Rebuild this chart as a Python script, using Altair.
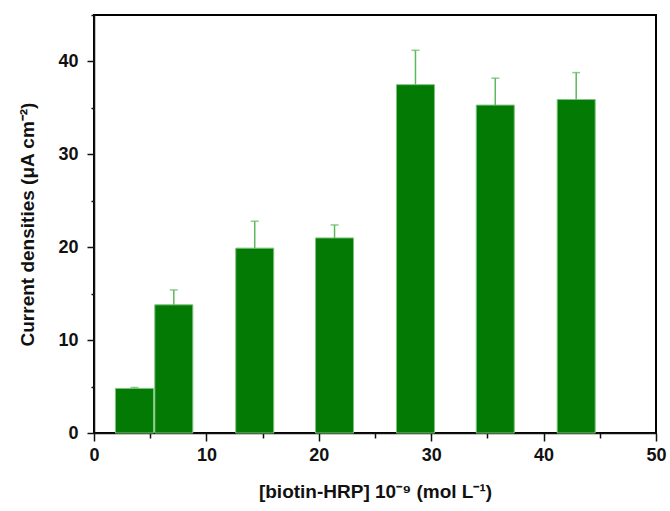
import altair as alt
import pandas as pd

# Data
conc = [3.6, 7.1, 14.3, 21.4, 28.6, 35.7, 42.9]
current = [4.8, 13.8, 19.9, 21.0, 37.5, 35.3, 35.9]
error = [0.1, 1.6, 2.9, 1.4, 3.7, 2.9, 2.9]

# axis ranges (frame edges)
x_range = [0, 50]
y_range = [0, 45]

df = pd.DataFrame({"conc": conc, "current": current, "err": error})
df["upper"] = df["current"] + df["err"]

frame_df = pd.DataFrame({
    "xa": [x_range[0], x_range[1]], "xb": [x_range[1], x_range[1]],
    "ya": [y_range[1], y_range[0]], "yb": [y_range[1], y_range[1]],
})

FONT = "Liberation Sans"

x_axis = alt.Axis(
    values=[0, 5, 10, 15, 20, 25, 30, 35, 40, 45, 50],
    labelExpr="datum.value % 10 === 0 ? datum.label : ''",
    tickSize={"condition": {"test": "datum.value % 10 === 0", "value": 8}, "value": 5},
    tickColor="#111", tickWidth=1.5, domainColor="#111", domainWidth=1.5,
    labelFont=FONT, labelFontSize=18, labelFontWeight="bold", labelColor="#111",
    labelPadding=5, titleFont=FONT, titleFontSize=19, titleFontWeight="bold",
    titleColor="#111", titlePadding=18, grid=False, labelFlush=False,
)
y_axis = alt.Axis(
    values=[0, 5, 10, 15, 20, 25, 30, 35, 40, 45],
    labelExpr="datum.value % 10 === 0 && datum.value < 45 ? datum.label : ''",
    tickSize={"condition": {"test": "datum.value % 10 === 0", "value": 7}, "value": 3},
    tickColor="#111", tickWidth=1.5, domainColor="#111", domainWidth=1.5,
    labelFont=FONT, labelFontSize=18, labelFontWeight="bold", labelColor="#111",
    labelPadding=9, titleFont=FONT, titleFontSize=19, titleFontWeight="bold",
    titleColor="#111", titlePadding=20, grid=False, labelFlush=False,
)

x = alt.X("conc:Q", scale=alt.Scale(domain=x_range, nice=False, padding=0),
          axis=x_axis, title="[biotin-HRP] 10⁻⁹ (mol L⁻¹)")
y = alt.Y("current:Q", scale=alt.Scale(domain=y_range, nice=False, padding=0),
          axis=y_axis, title="Current densities (μA cm⁻²)")

bars = alt.Chart(df).mark_bar(
    size=38, color="#037a03", stroke="#7cc47c", strokeWidth=1
).encode(x=x, y=y)

rules = alt.Chart(df).mark_rule(color="#5cb85c", strokeWidth=1.5).encode(
    x="conc:Q", y="current:Q", y2="upper:Q"
)
caps = alt.Chart(df).mark_tick(
    color="#5cb85c", orient="horizontal", size=8, thickness=1.5
).encode(x="conc:Q", y="upper:Q")

frame = alt.Chart(frame_df).mark_rule(color="black", strokeWidth=2).encode(
    x="xa:Q", x2="xb:Q", y="ya:Q", y2="yb:Q"
)

chart = alt.layer(bars, rules, caps, frame).properties(
    width=562, height=418,
    autosize=alt.AutoSizeParams(type="none"),
    padding={"left": 94, "top": 15, "right": 14, "bottom": 78},
).configure(background="white").configure_view(stroke="black", strokeWidth=2)

chart.save("out.html", embed_options={"renderer": "svg", "actions": False})
